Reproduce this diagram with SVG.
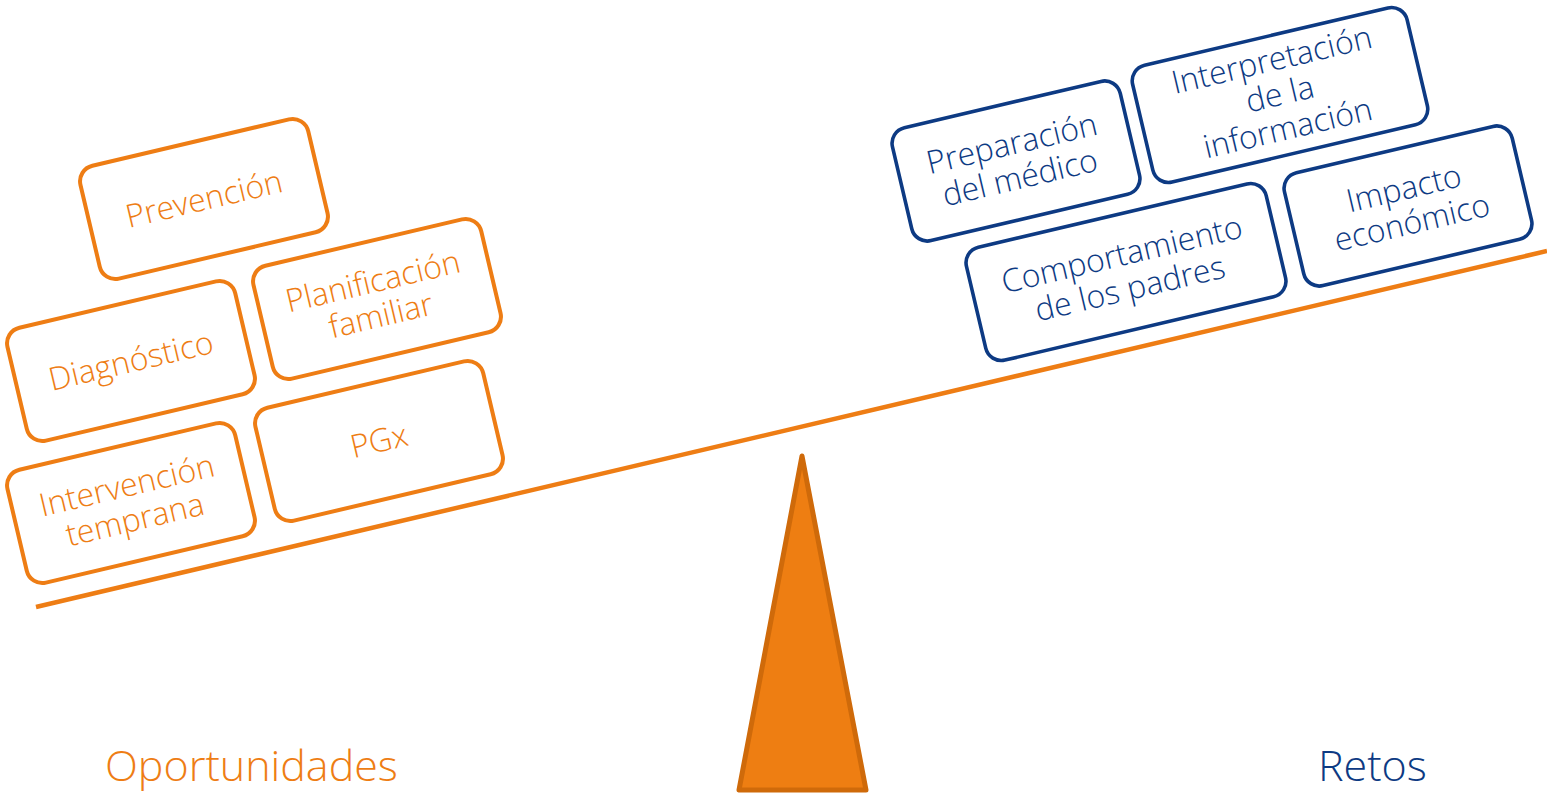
<svg xmlns="http://www.w3.org/2000/svg" width="1547" height="795" viewBox="0 0 1547 795">
<style>
.bo{fill:#fff;stroke:#EE7D14;stroke-width:4}
.bb{fill:#fff;stroke:#0D3A83;stroke-width:3.6}
.t{font-family:"Open Sans","Liberation Sans",sans-serif;font-size:32px;font-weight:300;text-anchor:middle}
.to{fill:#EE7D14}
.tb{fill:#0D3A83}
.lbl{font-family:"Open Sans","Liberation Sans",sans-serif;font-size:43px;font-weight:300}
</style>
<rect width="1547" height="795" fill="#fff"/>
<g id="connectors">
<line x1="36" y1="607" x2="1547" y2="251" stroke="#EE7D14" stroke-width="4.5"/>
</g>
<g id="fulcrum">
<polygon points="802,456 739,790 866,790" fill="#EE7E12" stroke="#CF6A0A" stroke-width="5" stroke-linejoin="round"/>
</g>
<g id="prevencion" transform="translate(204,199) rotate(-13.26)">
<rect class="bo" x="-117" y="-58" width="234" height="116" rx="16"/>
<text class="t to" x="0" y="11">Prevención</text>
</g>
<g id="diagnostico" transform="translate(131,361) rotate(-13.26)">
<rect class="bo" x="-117" y="-58" width="234" height="116" rx="16"/>
<text class="t to" x="0" y="11">Diagnóstico</text>
</g>
<g id="planificacion" transform="translate(377,299) rotate(-13.26)">
<rect class="bo" x="-117" y="-58" width="234" height="116" rx="16"/>
<text class="t to" x="0" y="-7">Planificación</text>
<text class="t to" x="0" y="28">familiar</text>
</g>
<g id="intervencion" transform="translate(131,503) rotate(-13.26)">
<rect class="bo" x="-117" y="-58" width="234" height="116" rx="16"/>
<text class="t to" x="0" y="-7">Intervención</text>
<text class="t to" x="0" y="28">temprana</text>
</g>
<g id="pgx" transform="translate(379,441) rotate(-13.26)">
<rect class="bo" x="-117" y="-58" width="234" height="116" rx="16"/>
<text class="t to" x="0" y="11">PGx</text>
</g>
<g id="preparacion" transform="translate(1016,161) rotate(-13.26)">
<rect class="bb" x="-117" y="-58" width="234" height="116" rx="16"/>
<text class="t tb" x="0" y="-7">Preparación</text>
<text class="t tb" x="0" y="28">del médico</text>
</g>
<g id="interpretacion" transform="translate(1280,95) rotate(-13.26)">
<rect class="bb" x="-141" y="-60" width="282" height="120" rx="16"/>
<text class="t tb" x="0" y="-25">Interpretación</text>
<text class="t tb" x="0" y="10">de la</text>
<text class="t tb" x="0" y="45">información</text>
</g>
<g id="comportamiento" transform="translate(1126,272) rotate(-13.26)">
<rect class="bb" x="-154" y="-58" width="308" height="116" rx="16"/>
<text class="t tb" x="0" y="-7">Comportamiento</text>
<text class="t tb" x="0" y="28">de los padres</text>
</g>
<g id="impacto" transform="translate(1408,206) rotate(-13.26)">
<rect class="bb" x="-117" y="-58" width="234" height="116" rx="16"/>
<text class="t tb" x="0" y="-7">Impacto</text>
<text class="t tb" x="0" y="28">económico</text>
</g>
<g id="labels">
<text class="lbl" x="105" y="781" fill="#EE7D14">Oportunidades</text>
<text class="lbl" x="1318" y="781" fill="#0D3A83">Retos</text>
</g>
</svg>
